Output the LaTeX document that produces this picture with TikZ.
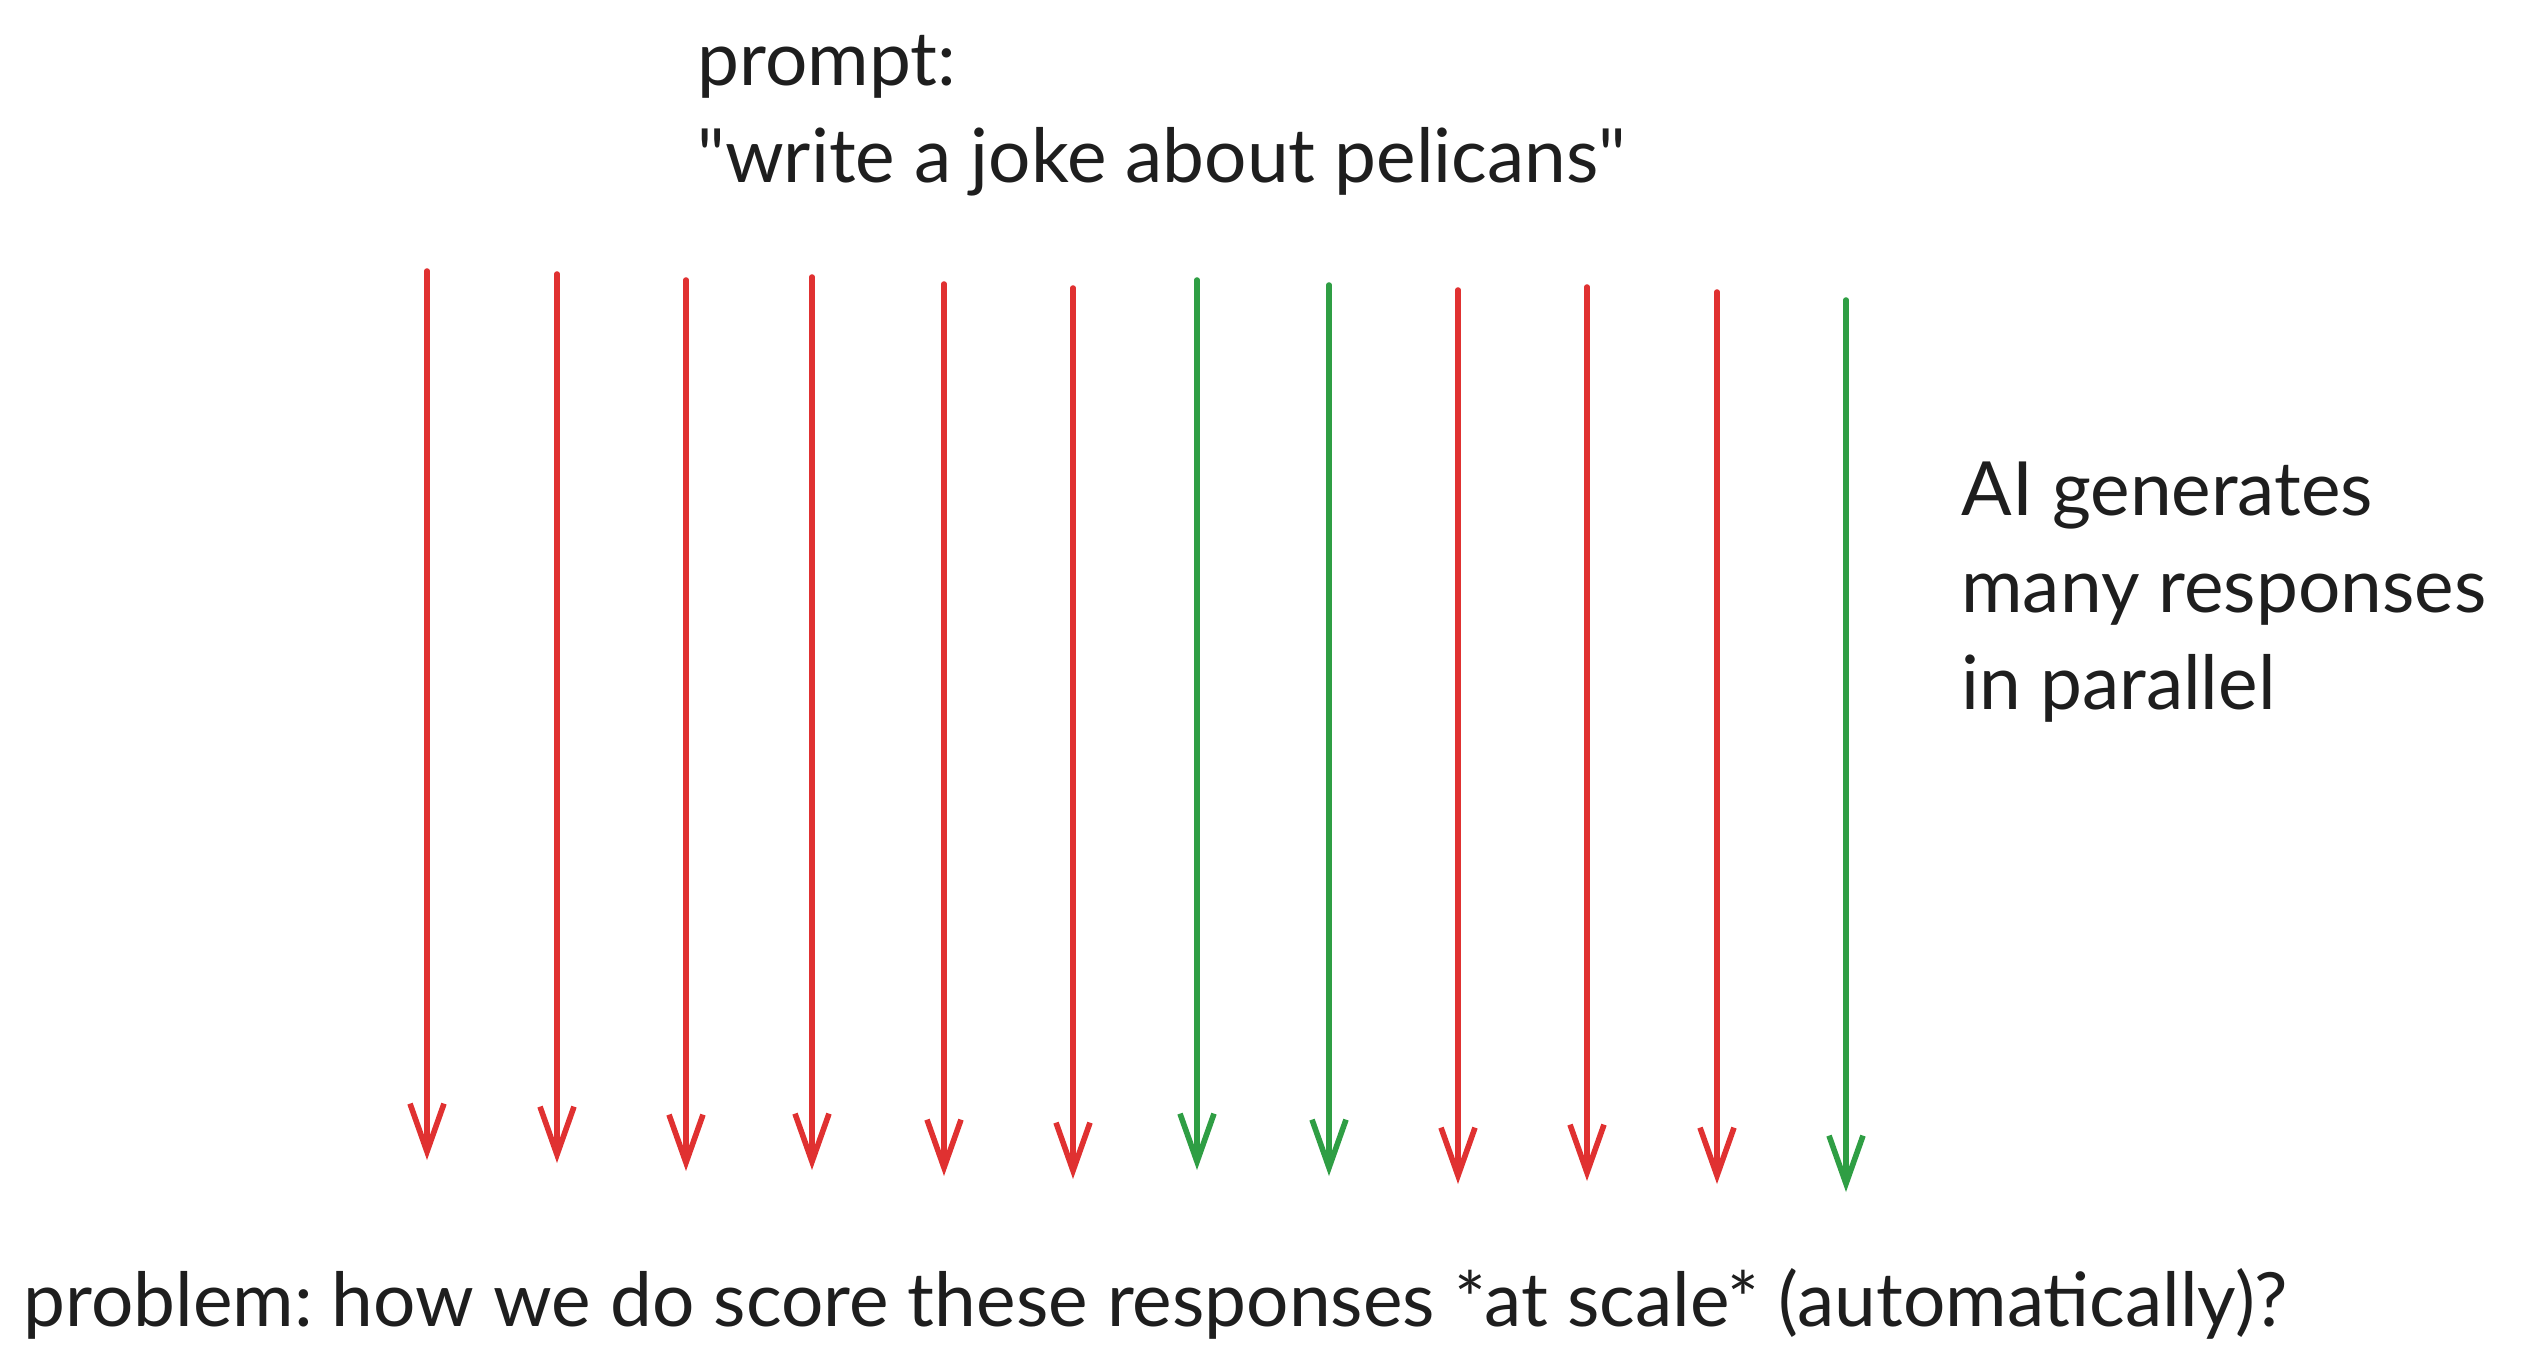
\documentclass[tikz,border=0pt]{standalone}
\usepackage{fontspec}
\setmainfont{Lato}[Ligatures=TeXOff]
\usepackage{xcolor}
\usetikzlibrary{arrows.meta, positioning}
\definecolor{inkred}{HTML}{E03131}
\definecolor{inkgreen}{HTML}{2F9E44}
\definecolor{ink}{HTML}{1E1E1E}
\frenchspacing
\tikzstyle{note} = [anchor=base west, inner sep=0pt, align=left, text=ink, font=\fontsize{37.4}{48.5}\selectfont]
\tikzstyle{response} = [line width=2.8pt, line cap=round, -{Straight Barb[length=24pt, width=17pt]}]

\begin{document}
\begin{tikzpicture}[x=0.5pt, y=-0.5pt]
		\useasboundingbox (0,0) rectangle (2526,1371);
		% base anchor sits on the last line
		\node (Prompt)[note] at (697,182) {prompt:\\"write a joke about pelicans"};
		\node (Generates)[note] at (1961,709) {AI generates\\many responses\\in parallel};
		\node (Problem)[note] at (23,1326) {problem: how we do score these responses *at scale* (automatically)?};
		\foreach \n/\x/\t/\b/\c in {1/427/271/1160/inkred, 2/557/274/1163/inkred, 3/686/280/1171/inkred,
			4/812/277/1170/inkred, 5/944/284/1176/inkred, 6/1073/288/1179/inkred,
			7/1197/280/1170/inkgreen, 8/1329/285/1176/inkgreen, 9/1458/290/1184/inkred,
			10/1587/287/1181/inkred, 11/1717/292/1184/inkred, 12/1846/300/1192/inkgreen} {
			\coordinate (top \n) at (\x,\t);
			\coordinate (tip \n) at (\x,\b);
			\draw [response, \c] (top \n) -- (tip \n);
		}
	\end{tikzpicture}
\end{document}
